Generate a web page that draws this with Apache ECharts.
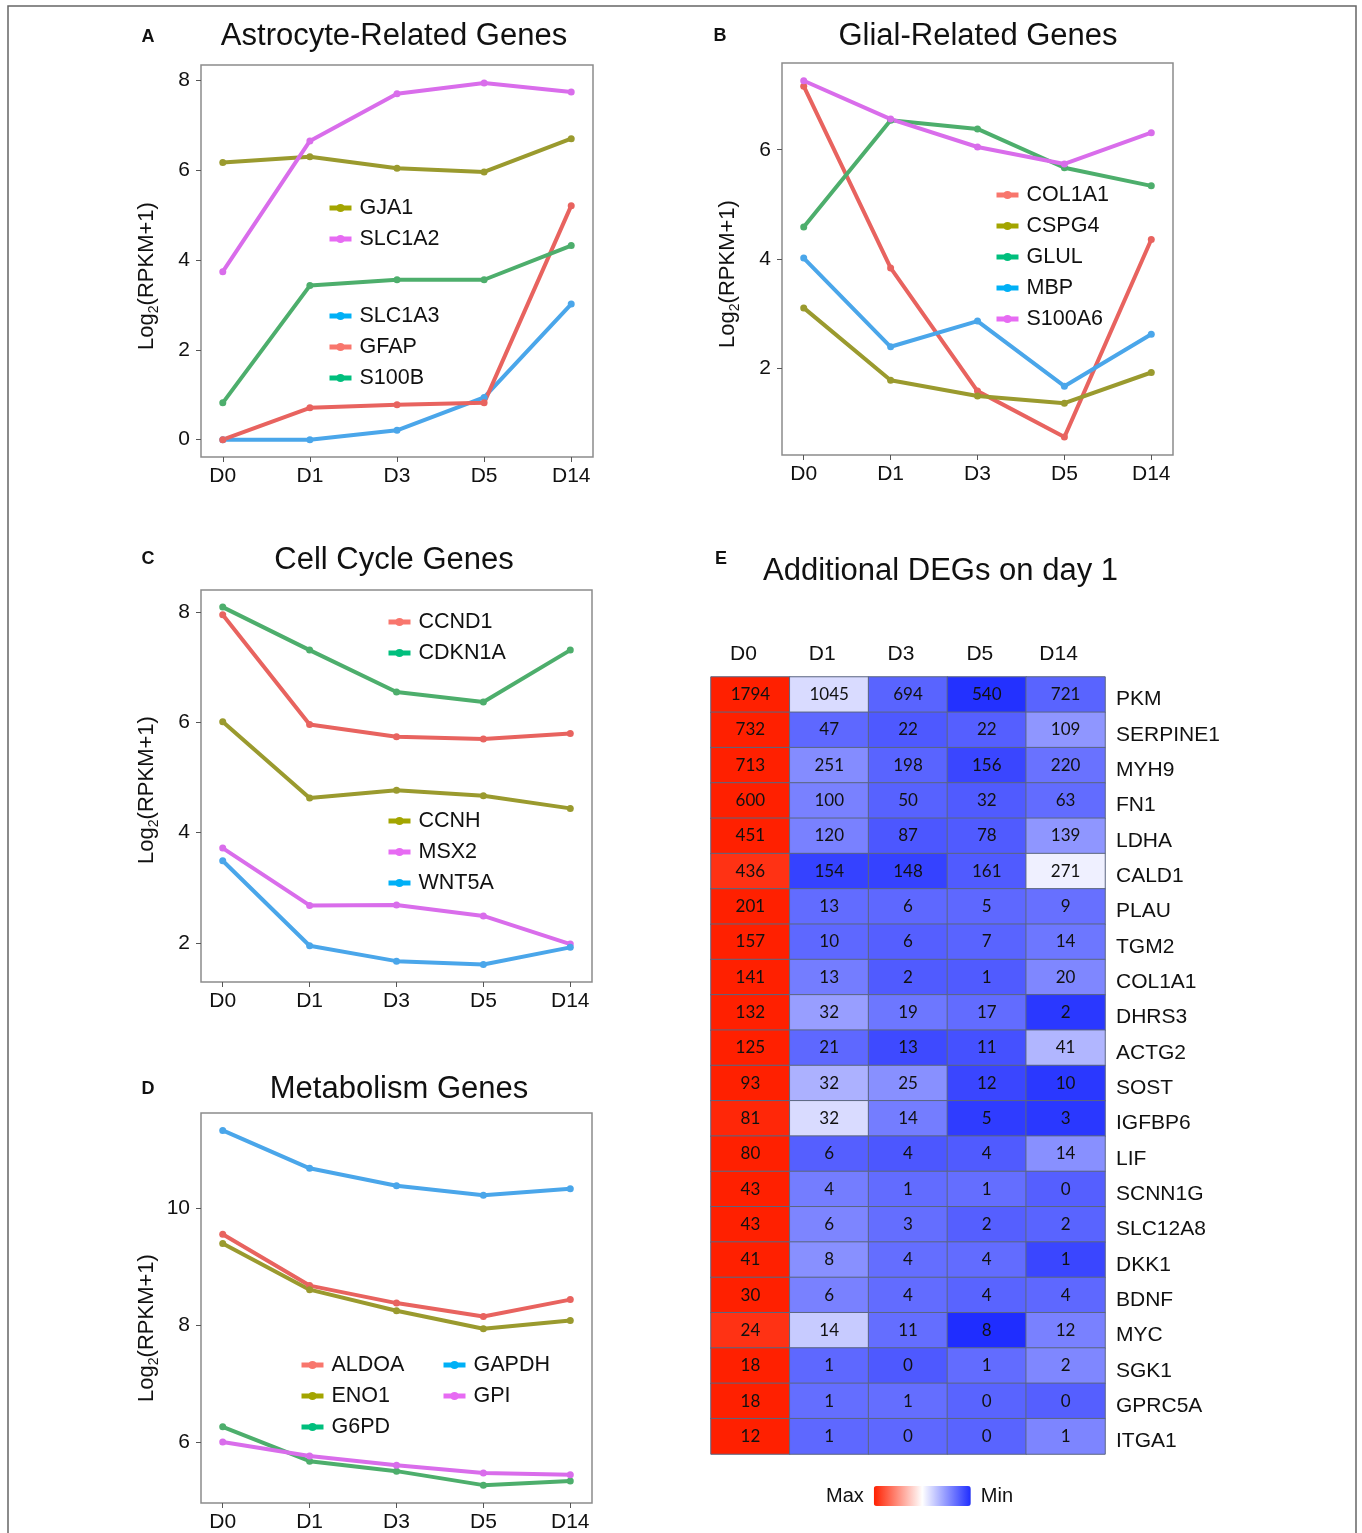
<!DOCTYPE html>
<html>
<head>
<meta charset="utf-8">
<script src="https://cdn.jsdelivr.net/npm/echarts@6/dist/echarts.min.js"></script>
<style>
  html, body { margin: 0; padding: 0; background: #fff; }
  #main { width: 1362px; height: 1533px; }
</style>
</head>
<body>
<div id="main"></div>
<script>
// time points
var days = ['D0', 'D1', 'D3', 'D5', 'D14'];

// A: astrocyte-related genes, log2(RPKM+1)
var GJA1   = [6.17, 6.30, 6.04, 5.96, 6.70];
var SLC1A2 = [3.74, 6.65, 7.70, 7.94, 7.74];
var SLC1A3 = [0.00, 0.00, 0.21, 0.94, 3.02];
var GFAP   = [0.00, 0.71, 0.78, 0.82, 5.21];
var S100B  = [0.82, 3.43, 3.56, 3.56, 4.32];

// B: glial-related genes
var COL1A1 = [7.16, 3.84, 1.59, 0.75, 4.36];
var CSPG4  = [3.11, 1.79, 1.50, 1.37, 1.93];
var GLUL   = [4.59, 6.54, 6.38, 5.67, 5.34];
var MBP    = [4.02, 2.40, 2.87, 1.68, 2.63];
var S100A6 = [7.26, 6.56, 6.05, 5.74, 6.31];

// C: cell cycle genes
var CCND1  = [7.95, 5.96, 5.74, 5.70, 5.80];
var CDKN1A = [8.09, 7.31, 6.55, 6.37, 7.31];
var CCNH   = [6.01, 4.63, 4.77, 4.67, 4.44];
var MSX2   = [3.72, 2.68, 2.69, 2.49, 1.98];
var WNT5A  = [3.49, 1.95, 1.67, 1.61, 1.92];

// D: metabolism genes
var ALDOA = [9.56, 8.68, 8.38, 8.15, 8.44];
var ENO1  = [9.40, 8.61, 8.25, 7.94, 8.08];
var G6PD  = [6.26, 5.67, 5.50, 5.26, 5.33];
var GAPDH = [11.34, 10.69, 10.39, 10.23, 10.34];
var GPI   = [6.00, 5.76, 5.60, 5.47, 5.44];

// y tick labels per panel
var ticksA = [0, 2, 4, 6, 8];
var ticksB = [2, 4, 6];
var ticksC = [2, 4, 6, 8];
var ticksD = [6, 8, 10];

// E: additional DEGs on day 1 (RPKM)
var heatGenes = ['PKM', 'SERPINE1', 'MYH9', 'FN1', 'LDHA', 'CALD1', 'PLAU', 'TGM2', 'COL1A1', 'DHRS3', 'ACTG2',
  'SOST', 'IGFBP6', 'LIF', 'SCNN1G', 'SLC12A8', 'DKK1', 'BDNF', 'MYC', 'SGK1', 'GPRC5A', 'ITGA1'];
var countsD0  = [1794, 732, 713, 600, 451, 436, 201, 157, 141, 132, 125, 93, 81, 80, 43, 43, 41, 30, 24, 18, 18, 12];
var countsD1  = [1045, 47, 251, 100, 120, 154, 13, 10, 13, 32, 21, 32, 32, 6, 4, 6, 8, 6, 14, 1, 1, 1];
var countsD3  = [694, 22, 198, 50, 87, 148, 6, 6, 2, 19, 13, 25, 14, 4, 1, 3, 4, 4, 11, 0, 1, 0];
var countsD5  = [540, 22, 156, 32, 78, 161, 5, 7, 1, 17, 11, 12, 5, 4, 1, 2, 4, 4, 8, 1, 0, 0];
var countsD14 = [721, 109, 220, 63, 139, 271, 9, 14, 20, 2, 41, 10, 3, 14, 0, 2, 1, 4, 12, 2, 0, 1];
// colour-scale position of each cell (1 = Max, -1 = Min)
var shadeD0  = [1, 1, 1, 1, 1, 0.92, 1, 1, 1, 1, 1, 1, 0.97, 1, 1, 1, 1, 1, 0.92, 1, 1, 1];
var shadeD1  = [-0.17, -0.72, -0.55, -0.6, -0.6, -0.9, -0.7, -0.72, -0.62, -0.46, -0.72, -0.37, -0.17, -0.76, -0.62, -0.58, -0.53, -0.6, -0.25, -0.72, -0.69, -0.72];
var shadeD3  = [-0.74, -0.79, -0.74, -0.75, -0.8, -0.9, -0.72, -0.76, -0.78, -0.65, -0.86, -0.53, -0.62, -0.8, -0.7, -0.69, -0.69, -0.7, -0.69, -0.79, -0.69, -0.72];
var shadeD5  = [-0.98, -0.76, -0.88, -0.78, -0.78, -0.78, -0.72, -0.74, -0.78, -0.7, -0.83, -0.88, -0.93, -0.78, -0.69, -0.76, -0.7, -0.74, -1, -0.7, -0.74, -0.74];
var shadeD14 = [-0.74, -0.5, -0.67, -0.7, -0.5, -0.07, -0.68, -0.65, -0.57, -0.95, -0.35, -0.95, -0.95, -0.53, -0.76, -0.74, -0.88, -0.72, -0.6, -0.57, -0.76, -0.58];

// line colour and the brighter legend-key colour
var RED = ['#E8635F', '#F8766D'], OLIVE = ['#9A9A2E', '#A3A500'], GREEN = ['#4DAE6C', '#00BF7D'],
    BLUE = ['#4AA6EA', '#00B0F6'], PINK = ['#D96DEB', '#E76BF3'];
var FONT = 'Liberation Sans, Arial, sans-serif';

var panels = [
  { names: ['GJA1', 'SLC1A2', 'SLC1A3', 'GFAP', 'S100B'], values: [GJA1, SLC1A2, SLC1A3, GFAP, S100B],
    colors: [OLIVE, PINK, BLUE, RED, GREEN], ticks: ticksA, min: -0.385, max: 8.34,
    grid: { left: 201, top: 65, width: 392, height: 392 }, shift: 30 },
  { names: ['COL1A1', 'CSPG4', 'GLUL', 'MBP', 'S100A6'], values: [COL1A1, CSPG4, GLUL, MBP, S100A6],
    colors: [RED, OLIVE, GREEN, BLUE, PINK], ticks: ticksB, min: 0.423, max: 7.584,
    grid: { left: 782, top: 63, width: 391, height: 392 }, shift: 30 },
  { names: ['CCND1', 'CDKN1A', 'CCNH', 'MSX2', 'WNT5A'], values: [CCND1, CDKN1A, CCNH, MSX2, WNT5A],
    colors: [RED, GREEN, OLIVE, PINK, BLUE], ticks: ticksC, min: 1.292, max: 8.40,
    grid: { left: 201, top: 590, width: 391, height: 392 }, shift: 8 },
  { names: ['ALDOA', 'ENO1', 'G6PD', 'GAPDH', 'GPI'], values: [ALDOA, ENO1, G6PD, GAPDH, GPI],
    colors: [RED, OLIVE, GREEN, BLUE, PINK], ticks: ticksD, min: 4.954, max: 11.638,
    grid: { left: 201, top: 1113, width: 391, height: 392 }, shift: 40 }
];

var keyColor = {};
var grids = [], xAxes = [], yAxes = [], series = [];
panels.forEach(function (p, i) {
  grids.push(Object.assign({ show: true, borderColor: '#8c8c8c', borderWidth: 1.5, backgroundColor: 'transparent' }, p.grid));
  xAxes.push({
    type: 'value', gridIndex: i, min: -0.25, max: 4.25,
    axisLine: { show: false, onZero: false }, splitLine: { show: false },
    axisTick: { customValues: [0, 1, 2, 3, 4], length: 5, lineStyle: { color: '#555' } },
    axisLabel: { customValues: [0, 1, 2, 3, 4], formatter: function (v) { return days[Math.round(v)]; },
      fontSize: 21, color: '#111', margin: 9 }
  });
  yAxes.push({
    type: 'value', gridIndex: i, min: p.min, max: p.max,
    axisLine: { show: false, onZero: false }, splitLine: { show: false },
    axisTick: { customValues: p.ticks, length: 5, lineStyle: { color: '#555' } },
    axisLabel: { customValues: p.ticks, fontSize: 21, color: '#111', margin: 11 },
    name: '{a|Log}{s|2}{a|(RPKM+1)}', nameLocation: 'middle', nameRotate: 90, nameGap: 40,
    nameTextStyle: {
      padding: [0, p.shift, 0, 0],
      rich: {
        a: { fontSize: 22, color: '#111', lineHeight: 28, verticalAlign: 'middle', fontFamily: FONT },
        s: { fontSize: 14, color: '#111', lineHeight: 14, verticalAlign: 'bottom', fontFamily: FONT }
      }
    }
  });
  p.names.forEach(function (n, k) {
    keyColor[n] = p.colors[k][1];
    series.push({
      type: 'line', name: n, xAxisIndex: i, yAxisIndex: i,
      data: p.values[k].map(function (v, d) { return [d, v]; }),
      symbol: 'circle', symbolSize: 7,
      lineStyle: { width: 4, color: p.colors[k][0] },
      itemStyle: { color: p.colors[k][0] },
      emphasis: { disabled: true }
    });
  });
});

// heatmap
grids.push({ left: 711, top: 677, width: 394, height: 777 });
xAxes.push({ type: 'category', gridIndex: 4, data: days, position: 'top',
  axisLine: { show: false }, axisTick: { show: false }, splitLine: { show: false },
  axisLabel: { fontSize: 21, color: '#111', margin: 12, padding: [0, 14, 0, 0] } });
yAxes.push({ type: 'category', gridIndex: 4, data: heatGenes, inverse: true, position: 'right',
  axisLine: { show: false }, axisTick: { show: false }, splitLine: { show: false },
  axisLabel: { fontSize: 21, color: '#111', margin: 11, lineHeight: 30, verticalAlign: 'top', padding: [-10, 0, 0, 0] } });

var heatCounts = [countsD0, countsD1, countsD3, countsD5, countsD14];
var heatShades = [shadeD0, shadeD1, shadeD3, shadeD5, shadeD14];
var heatData = [];
heatCounts.forEach(function (col, c) {
  col.forEach(function (v, r) { heatData.push([c, r, heatShades[c][r], v]); });
});
series.push({
  type: 'heatmap', xAxisIndex: 4, yAxisIndex: 4, data: heatData,
  itemStyle: { borderColor: '#5b6680', borderWidth: 1 },
  label: { show: true, formatter: function (p) { return p.data[3]; },
    fontFamily: 'Lato, sans-serif', fontSize: 17, color: '#111' },
  emphasis: { disabled: true }
});

var legendBase = {
  orient: 'vertical', itemWidth: 22, itemHeight: 10, itemGap: 9, selectedMode: false, padding: 0,
  textStyle: { fontSize: 21.5, color: '#111', fontFamily: FONT, padding: [0, 0, 0, 3] }
};
function legendAt(names, left, top) {
  var items = names.map(function (n) {
    return { name: n, itemStyle: { color: keyColor[n] }, lineStyle: { color: keyColor[n], width: 5 } };
  });
  return Object.assign({}, legendBase, { data: items, left: left, top: top });
}

function titleAt(text, x, top, size, bold, align) {
  return { text: text, left: x, top: top, textAlign: align || 'center', padding: 0,
    textStyle: { fontSize: size, fontWeight: bold ? 'bold' : 'normal', color: '#111', fontFamily: FONT } };
}

var myChart = echarts.init(document.getElementById('main'));
myChart.setOption({
  animation: false,
  textStyle: { fontFamily: FONT },
  title: [
    titleAt('A', 148, 28, 18, true), titleAt('B', 720, 27, 18, true), titleAt('C', 148, 550, 18, true),
    titleAt('D', 148, 1080, 18, true), titleAt('E', 721, 550, 18, true),
    titleAt('Astrocyte-Related Genes', 394, 21, 31), titleAt('Glial-Related Genes', 978, 21, 31),
    titleAt('Cell Cycle Genes', 394, 545, 31), titleAt('Metabolism Genes', 399, 1074, 31),
    titleAt('Additional DEGs on day 1', 763, 556, 31, false, 'left')
  ],
  legend: [
    legendAt(['GJA1', 'SLC1A2'], 327, 197),
    legendAt(['SLC1A3', 'GFAP', 'S100B'], 327, 305),
    legendAt(['COL1A1', 'CSPG4', 'GLUL', 'MBP', 'S100A6'], 994, 184),
    legendAt(['CCND1', 'CDKN1A'], 386, 611),
    legendAt(['CCNH', 'MSX2', 'WNT5A'], 386, 810),
    legendAt(['ALDOA', 'ENO1', 'G6PD'], 299, 1354),
    legendAt(['GAPDH', 'GPI'], 441, 1354)
  ],
  visualMap: {
    type: 'continuous', seriesIndex: 20, dimension: 2, min: -1, max: 1,
    inRange: { color: ['#1f2dff', '#ffffff', '#ff2000'] },
    orient: 'horizontal', inverse: true, left: 826, top: 1486,
    itemWidth: 20, itemHeight: 97, text: ['Max', 'Min'], textGap: 10, padding: 0,
    calculable: false, hoverLink: false,
    textStyle: { fontSize: 20, color: '#111', fontFamily: FONT }
  },
  graphic: [{
    type: 'rect', shape: { x: 8, y: 6, width: 1348, height: 1560 },
    style: { fill: 'none', stroke: '#666', lineWidth: 1.5 }, silent: true
  }],
  grid: grids,
  xAxis: xAxes,
  yAxis: yAxes,
  series: series
});
</script>
</body>
</html>
